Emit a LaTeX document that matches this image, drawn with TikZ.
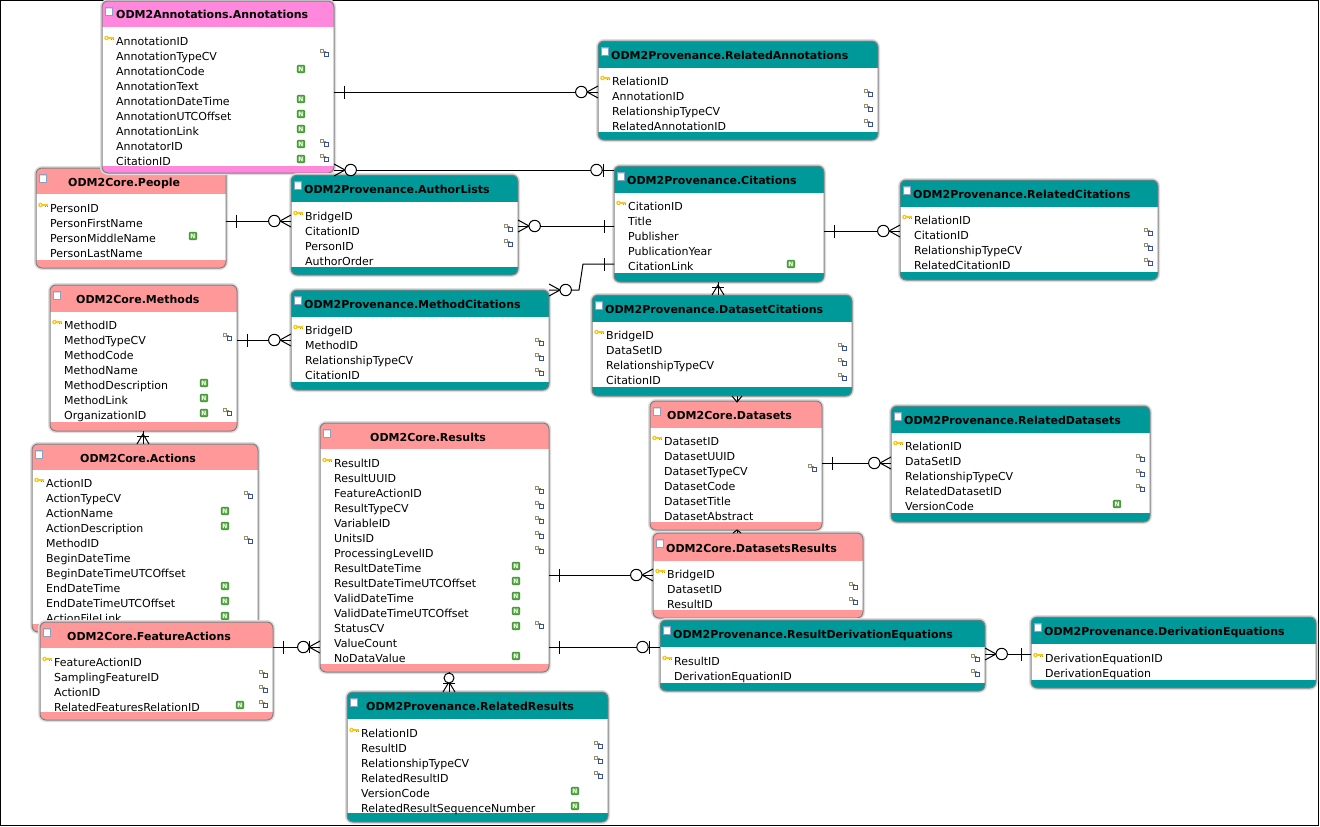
\documentclass[tikz,border=0pt]{standalone}
\usepackage{fontspec}
\setmainfont{DejaVu Sans}
\usetikzlibrary{fit}

\definecolor{corepink}{RGB}{255,153,153}
\definecolor{annomag}{RGB}{255,136,221}
\definecolor{provteal}{RGB}{0,153,153}
\definecolor{boxgray}{RGB}{128,128,128}
\definecolor{halogray}{RGB}{222,222,222}
\definecolor{keyyellow}{RGB}{250,200,20}
\definecolor{keydark}{RGB}{200,150,0}
\definecolor{ngreen}{RGB}{90,175,70}
\definecolor{ngreendark}{RGB}{50,120,40}
\definecolor{fkolive}{RGB}{150,140,110}
\definecolor{fkblue}{RGB}{60,80,150}
\definecolor{tblblue}{RGB}{200,220,245}
\definecolor{tbledge}{RGB}{140,160,195}

\tikzset{
  conn/.style={draw=black, line width=1pt},
  boxline/.style={draw=boxgray, line width=1pt},
  rowtext/.style={anchor=base west, inner sep=0pt, font=\fontsize{11}{13}\selectfont},
  titletext/.style={anchor=base west, inner sep=0pt, font=\fontsize{11}{13}\selectfont\bfseries},
  tblicon/.pic={
    \fill[white] (0,0) rectangle (7,8);
    \fill[tblblue] (0,0) rectangle (7,1.8);
    \draw[tbledge, line width=0.5pt] (0,0) rectangle (7,8);
  },
  keyicon/.pic={
    \fill[keyyellow] (4.5,-2) circle[radius=2.3pt];
    \fill[white] (4.5,-2) circle[radius=0.8pt];
    \fill[keyyellow] (6,-2.8) rectangle (12,-1.3);
    \fill[keydark] (9,-1.3) rectangle (10.2,0.2);
    \fill[keydark] (11,-1.3) rectangle (12,-0.2);
  },
  nicon/.pic={
    \draw[ngreendark, fill=ngreen, line width=0.5pt, rounded corners=1pt] (-3.8,-4.8) rectangle (3.8,2.8);
    \node[white, inner sep=0pt, font=\fontsize{6}{6}\selectfont\bfseries] (-nlabel) at (0,-1) {N};
  },
  fkicon/.pic={
    \draw[fkolive, line width=0.7pt] (-4.5,-5.5) rectangle (-1.5,-2.5);
    \draw[fkolive, line width=0.6pt] (-1.5,-4) -- (0.2,-4) -- (0.2,-2.2);
    \draw[fkblue, line width=0.7pt] (-0.5,-2.2) rectangle (3.3,1);
  },
  erone/.pic={\draw[conn] (10,-6.5) -- (10,6.5);},
  erzeroone/.pic={
    \draw[conn] (11,-6.5) -- (11,6.5);
    \draw[conn, fill=white] (17.5,0) circle[radius=5.7pt];
  },
  erzeromany/.pic={
    \draw[conn] (0,-6) -- (11,0) -- (0,6);
    \draw[conn, fill=white] (16.7,0) circle[radius=5.7pt];
  },
  erzeromanybar/.pic={
    \draw[conn] (0,-6) -- (11,0) -- (0,6);
    \draw[conn] (11,-6) -- (11,6);
    \draw[conn, fill=white] (16.7,0) circle[radius=5.7pt];
  },
  eronemany/.pic={
    \draw[conn] (0,-6) -- (10,0) -- (0,6);
    \draw[conn] (8,-6) -- (8,6);
  },
  smallmany/.pic={\draw[conn] (0,-5) -- (6,0) -- (0,5);},
  tinymany/.pic={\draw[conn] (0,-4) -- (3,0) -- (0,4);},
  vzeromany/.pic={
    \draw[conn] (0,-6) -- (10,0) -- (0,6);
    \draw[conn] (9,-6) -- (9,6);
    \draw[conn, fill=white] (14,0) circle[radius=5pt];
  },
}

% table frame: name, left, top, right, bottom, header bottom, footer top, colour
\newcommand\erbox[8]{%
  \draw[halogray, line width=4pt, rounded corners=6pt] (#2,#3) rectangle (#4,#5);
  \begin{scope}
    \clip[rounded corners=6pt] (#2,#3) rectangle (#4,#5);
    \fill[white] (#2,#3) rectangle (#4,#5);
    \fill[#8] (#2,#3) rectangle (#4,#6);
    \fill[#8] (#2,#7) rectangle (#4,#5);
  \end{scope}
  \draw[boxline, rounded corners=6pt] (#2,#3) rectangle (#4,#5);
  \path (#2,#3) coordinate (#1-nw) (#4,#5) coordinate (#1-se);
  \node[fit=(#1-nw)(#1-se), inner sep=0pt, outer sep=0pt] (#1) {};
  \path (#2+3,#3+6) pic{tblicon};
}
% table title: name, x, centre y, text
\newcommand\ertitle[4]{\node[titletext] (#1-title) at (#2,#3+5) {#4};}
% table rows: name, left, right, first row y, list of text/key/null/fk
\newcommand\errows[5]{%
  \foreach \txt/\k/\n/\f [count=\i from 0] in {#5} {
    \node[rowtext] (#1-r\i) at (#2+14,#4+15*\i+5) {\txt};
    \ifnum\k=1 \path (#2,#4+15*\i) pic{keyicon}; \fi
    \ifnum\n=1 \path (#3-33,#4+15*\i) pic{nicon}; \fi
    \ifnum\f=1 \path (#3-9,#4+15*\i) pic{fkicon}; \fi
  }%
}

\begin{document}
\begin{tikzpicture}[x=1pt,y=-1pt]
\useasboundingbox (0,0) rectangle (1320,827);
\fill[white] (0,0) rectangle (1320,827);
\draw[black, line width=1pt] (0.5,0.5) rectangle (1318.5,825.5);

% ---- ODM2Core.People
\erbox{People}{36}{168}{226}{268}{194}{260}{corepink}
\ertitle{People}{68}{181}{ODM2Core.People}
\errows{People}{36}{226}{207}{PersonID/1/0/0, PersonFirstName/0/0/0, PersonMiddleName/0/1/0, PersonLastName/0/0/0}

% ---- ODM2Annotations.Annotations
\erbox{Ann}{102}{1}{334}{173}{27}{166}{annomag}
\ertitle{Ann}{116}{14}{ODM2Annotations.Annotations}
\errows{Ann}{102}{334}{40}{AnnotationID/1/0/0, AnnotationTypeCV/0/0/1, AnnotationCode/0/1/0, AnnotationText/0/0/0, AnnotationDateTime/0/1/0, AnnotationUTCOffset/0/1/0, AnnotationLink/0/1/0, AnnotatorID/0/1/1, CitationID/0/1/1}

% ---- ODM2Provenance.RelatedAnnotations
\erbox{RelAnn}{598}{41}{878}{140}{68}{132}{provteal}
\ertitle{RelAnn}{611}{54.5}{ODM2Provenance.RelatedAnnotations}
\errows{RelAnn}{598}{878}{80}{RelationID/1/0/0, AnnotationID/0/0/1, RelationshipTypeCV/0/0/1, RelatedAnnotationID/0/0/1}

% ---- ODM2Provenance.AuthorLists
\erbox{AuthL}{291}{175}{518}{275}{202}{267}{provteal}
\ertitle{AuthL}{304}{188.5}{ODM2Provenance.AuthorLists}
\errows{AuthL}{291}{518}{215}{BridgeID/1/0/0, CitationID/0/0/1, PersonID/0/0/1, AuthorOrder/0/0/0}

% ---- ODM2Provenance.Citations
\erbox{Cit}{614}{166}{824}{282}{193}{273}{provteal}
\ertitle{Cit}{627}{179.5}{ODM2Provenance.Citations}
\errows{Cit}{614}{824}{205}{CitationID/1/0/0, Title/0/0/0, Publisher/0/0/0, PublicationYear/0/0/0, CitationLink/0/1/0}

% ---- ODM2Provenance.RelatedCitations
\erbox{RelCit}{900}{180}{1158}{280}{207}{272}{provteal}
\ertitle{RelCit}{913}{193.5}{ODM2Provenance.RelatedCitations}
\errows{RelCit}{900}{1158}{219}{RelationID/1/0/0, CitationID/0/0/1, RelationshipTypeCV/0/0/1, RelatedCitationID/0/0/1}

% ---- ODM2Core.Methods
\erbox{Meth}{50}{285}{237}{431}{312}{422}{corepink}
\ertitle{Meth}{76}{298.5}{ODM2Core.Methods}
\errows{Meth}{50}{237}{324}{MethodID/1/0/0, MethodTypeCV/0/0/1, MethodCode/0/0/0, MethodName/0/0/0, MethodDescription/0/1/0, MethodLink/0/1/0, OrganizationID/0/1/1}

% ---- ODM2Provenance.MethodCitations
\erbox{MethCit}{291}{290}{549}{390}{317}{382}{provteal}
\ertitle{MethCit}{304}{303.5}{ODM2Provenance.MethodCitations}
\errows{MethCit}{291}{549}{329}{BridgeID/1/0/0, MethodID/0/0/1, RelationshipTypeCV/0/0/1, CitationID/0/0/1}

% ---- ODM2Provenance.DatasetCitations
\erbox{DsCit}{592}{295}{852}{396}{322}{387}{provteal}
\ertitle{DsCit}{605}{308.5}{ODM2Provenance.DatasetCitations}
\errows{DsCit}{592}{852}{334}{BridgeID/1/0/0, DataSetID/0/0/1, RelationshipTypeCV/0/0/1, CitationID/0/0/1}

% ---- ODM2Core.Datasets
\erbox{Ds}{650}{401}{822}{530}{428}{522}{corepink}
\ertitle{Ds}{667}{414.5}{ODM2Core.Datasets}
\errows{Ds}{650}{822}{440}{DatasetID/1/0/0, DatasetUUID/0/0/0, DatasetTypeCV/0/0/1, DatasetCode/0/0/0, DatasetTitle/0/0/0, DatasetAbstract/0/0/0}

% ---- ODM2Provenance.RelatedDatasets
\erbox{RelDs}{891}{406}{1150}{522}{433}{513}{provteal}
\ertitle{RelDs}{904}{419.5}{ODM2Provenance.RelatedDatasets}
\errows{RelDs}{891}{1150}{445}{RelationID/1/0/0, DataSetID/0/0/1, RelationshipTypeCV/0/0/1, RelatedDatasetID/0/0/1, VersionCode/0/1/0}

% ---- ODM2Core.Actions (partly under FeatureActions)
\erbox{Act}{32}{444}{258}{632}{470}{624}{corepink}
\ertitle{Act}{80}{457}{ODM2Core.Actions}
\errows{Act}{32}{258}{482}{ActionID/1/0/0, ActionTypeCV/0/0/1, ActionName/0/1/0, ActionDescription/0/1/0, MethodID/0/0/1, BeginDateTime/0/0/0, BeginDateTimeUTCOffset/0/0/0, EndDateTime/0/1/0, EndDateTimeUTCOffset/0/1/0, ActionFileLink/0/1/0}

% ---- ODM2Core.FeatureActions
\erbox{FA}{40}{622}{273}{720}{648}{712}{corepink}
\ertitle{FA}{67}{635}{ODM2Core.FeatureActions}
\errows{FA}{40}{273}{661}{FeatureActionID/1/0/0, SamplingFeatureID/0/0/1, ActionID/0/0/1, RelatedFeaturesRelationID/0/1/1}

% ---- ODM2Core.Results
\erbox{Res}{320}{423}{549}{672}{449}{664}{corepink}
\ertitle{Res}{370}{436}{ODM2Core.Results}
\errows{Res}{320}{549}{462}{ResultID/1/0/0, ResultUUID/0/0/0, FeatureActionID/0/0/1, ResultTypeCV/0/0/1, VariableID/0/0/1, UnitsID/0/0/1, ProcessingLevelID/0/0/1, ResultDateTime/0/1/0, ResultDateTimeUTCOffset/0/1/0, ValidDateTime/0/1/0, ValidDateTimeUTCOffset/0/1/0, StatusCV/0/1/1, ValueCount/0/0/0, NoDataValue/0/1/0}

% ---- ODM2Core.DatasetsResults
\erbox{DsRes}{653}{533}{863}{618}{561}{610}{corepink}
\ertitle{DsRes}{666}{547}{ODM2Core.DatasetsResults}
\errows{DsRes}{653}{863}{573}{BridgeID/1/0/0, DatasetID/0/0/1, ResultID/0/0/1}

% ---- ODM2Provenance.ResultDerivationEquations
\erbox{RDE}{660}{620}{985}{691}{647}{683}{provteal}
\ertitle{RDE}{673}{633.5}{ODM2Provenance.ResultDerivationEquations}
\errows{RDE}{660}{985}{660}{ResultID/1/0/1, DerivationEquationID/0/0/1}

% ---- ODM2Provenance.DerivationEquations
\erbox{DE}{1031}{617}{1316}{688}{644}{680}{provteal}
\ertitle{DE}{1044}{630.5}{ODM2Provenance.DerivationEquations}
\errows{DE}{1031}{1316}{657}{DerivationEquationID/1/0/0, DerivationEquation/0/0/0}

% ---- ODM2Provenance.RelatedResults
\erbox{RelRes}{347}{692}{608}{822}{719}{813}{provteal}
\ertitle{RelRes}{366}{705.5}{ODM2Provenance.RelatedResults}
\errows{RelRes}{347}{608}{732}{RelationID/1/0/0, ResultID/0/0/1, RelationshipTypeCV/0/0/1, RelatedResultID/0/0/1, VersionCode/0/1/0, RelatedResultSequenceNumber/0/1/0}

% ---- relationships
\coordinate (mcBendA) at (579,290);
\coordinate (mcBendB) at (583,264);

\draw[conn] (Ann.east |- 0,92) pic{erone} -- (RelAnn.west |- 0,92) pic[rotate=180]{erzeromany};
\draw[conn] (Ann.east |- 0,170) pic{erzeromany} -- (Cit.west |- 0,170) pic[rotate=180]{erzeroone};
\draw[conn] (People.east |- 0,221) pic{erone} -- (AuthL.west |- 0,221) pic[rotate=180]{erzeromany};
\draw[conn] (AuthL.east |- 0,226) pic{erzeromany} -- (Cit.west |- 0,226) pic[rotate=180]{erone};
\draw[conn] (MethCit.east |- mcBendA) pic{erzeromany} -- (mcBendA) -- (mcBendB) -- (Cit.west |- mcBendB) pic[rotate=180]{erone};
\draw[conn] (Cit.east |- 0,231) pic{erone} -- (RelCit.west |- 0,231) pic[rotate=180]{erzeromany};
\draw[conn] (Cit.south -| 718,0) -- (DsCit.north -| 718,0) pic[rotate=90]{eronemany};
\draw[conn] (DsCit.south -| 737,0) pic[rotate=-90]{smallmany} -- (Ds.north -| 737,0);
\draw[conn] (Ds.south -| 737,0) -- (DsRes.north -| 737,0) pic[rotate=90]{tinymany};
\draw[conn] (Ds.east |- 0,463) pic{erone} -- (RelDs.west |- 0,463) pic[rotate=180]{erzeromany};
\draw[conn] (Meth.east |- 0,340) pic{erone} -- (MethCit.west |- 0,340) pic[rotate=180]{erzeromany};
\draw[conn] (Meth.south -| 143,0) -- (Act.north -| 143,0) pic[rotate=90]{eronemany};
\draw[conn] (FA.east |- 0,647) pic{erone} -- (Res.west |- 0,647) pic[rotate=180]{erzeromanybar};
\draw[conn] (Res.east |- 0,575) pic{erone} -- (DsRes.west |- 0,575) pic[rotate=180]{erzeromany};
\draw[conn] (Res.east |- 0,647) pic{erone} -- (RDE.west |- 0,647) pic[rotate=180]{erzeroone};
\draw[conn] (RDE.east |- 0,654) pic{erzeromany} -- (DE.west |- 0,654) pic[rotate=180]{erone};
\draw[conn] (Res.south -| 449,0) -- (RelRes.north -| 449,0) pic[rotate=90]{vzeromany};
\end{tikzpicture}
\end{document}
